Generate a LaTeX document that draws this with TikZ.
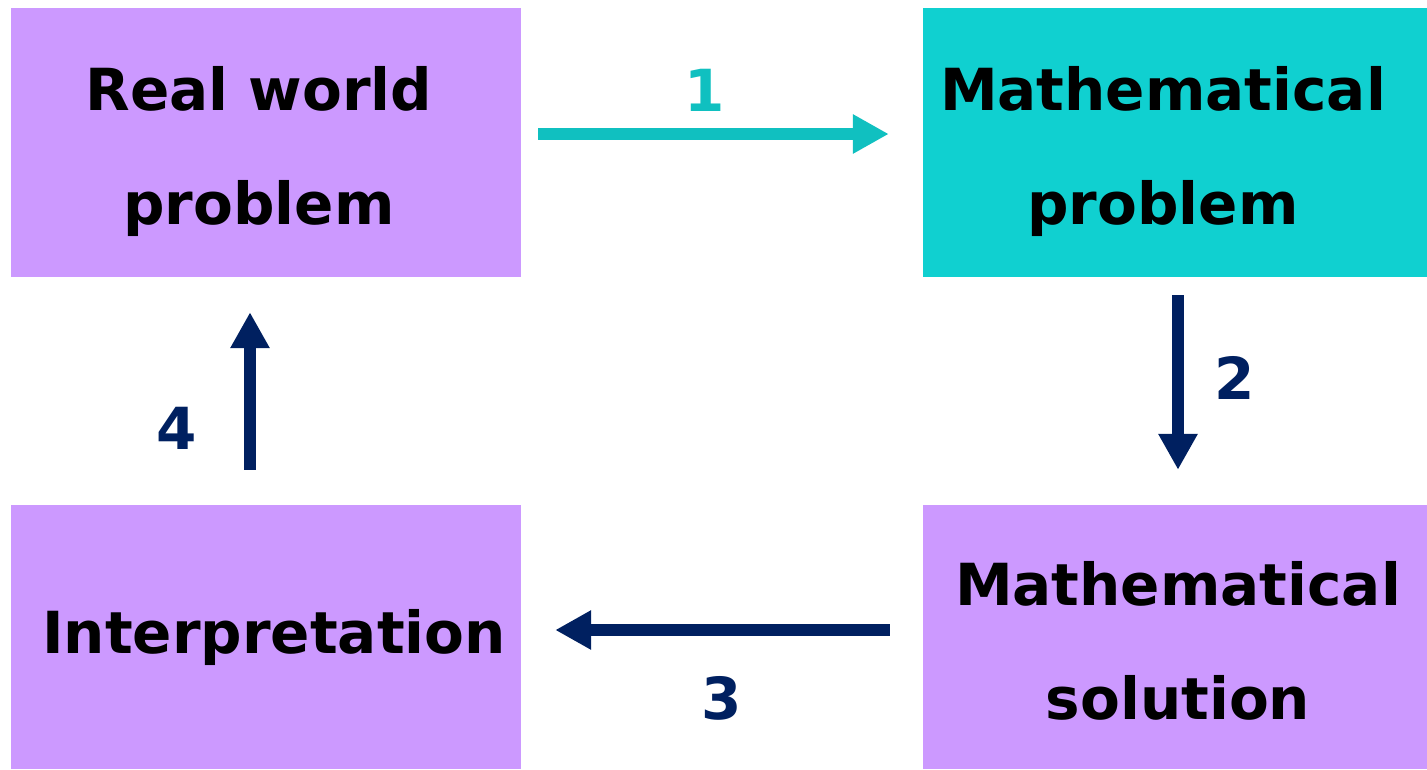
\documentclass[tikz,border=0pt]{standalone}
\usepackage{fontspec}
\setmainfont{DejaVu Sans}
\usetikzlibrary{arrows.meta}
\definecolor{boxpurple}{HTML}{CC99FF}
\definecolor{boxteal}{HTML}{10D0D0}
\definecolor{arrteal}{HTML}{10C0C0}
\definecolor{navy}{HTML}{002060}
\tikzset{
  box/.style={rectangle, inner sep=0pt},
  lbl/.style={inner sep=0pt, align=center,
    font=\fontsize{58}{114}\selectfont\bfseries, text=black},
  arr/.style={line width=12pt, -{Triangle[length=36pt,width=37pt]}},
  num/.style={inner sep=0pt, font=\fontsize{58}{60}\selectfont\bfseries},
}
\begin{document}
\begin{tikzpicture}[x=1pt,y=-1pt]
\useasboundingbox (0,0) rectangle (1427,769);
\node[box, fill=boxpurple, minimum width=510pt, minimum height=269pt] (rw) at (266,142.5) {};
\node[box, fill=boxteal, minimum width=504pt, minimum height=269pt] (mp) at (1175,142.5) {};
\node[box, fill=boxpurple, minimum width=510pt, minimum height=264pt] (ip) at (266,637) {};
\node[box, fill=boxpurple, minimum width=504pt, minimum height=264pt] (ms) at (1175,637) {};
\node[lbl] (rwt) at (259,151) {Real world\\problem};
\node[lbl] (mpt) at (1163,151) {Mathematical\\problem};
\node[lbl] (ipt) at (274,637) {Interpretation};
\node[lbl] (mst) at (1178,641) {Mathematical\\solution};
\draw[arr, arrteal] ([xshift=17pt,yshift=8.5pt]rw.east) -- ([xshift=-34pt,yshift=8.5pt]mp.west);
\draw[arr, navy] ([xshift=3pt,yshift=-18pt]mp.south) -- ([xshift=3pt,yshift=35pt]ms.north);
\draw[arr, navy] ([xshift=-33pt,yshift=7pt]ms.west) -- ([xshift=34pt,yshift=7pt]ip.east);
\draw[arr, navy] ([xshift=-16pt,yshift=35pt]ip.north) -- ([xshift=-16pt,yshift=-35pt]rw.south);
\node[num, text=arrteal] (n1) at (705,90) {1};
\node[num, text=navy] (n2) at (1235,378) {2};
\node[num, text=navy] (n3) at (722,698) {3};
\node[num, text=navy] (n4) at (177,428) {4};
\end{tikzpicture}
\end{document}
